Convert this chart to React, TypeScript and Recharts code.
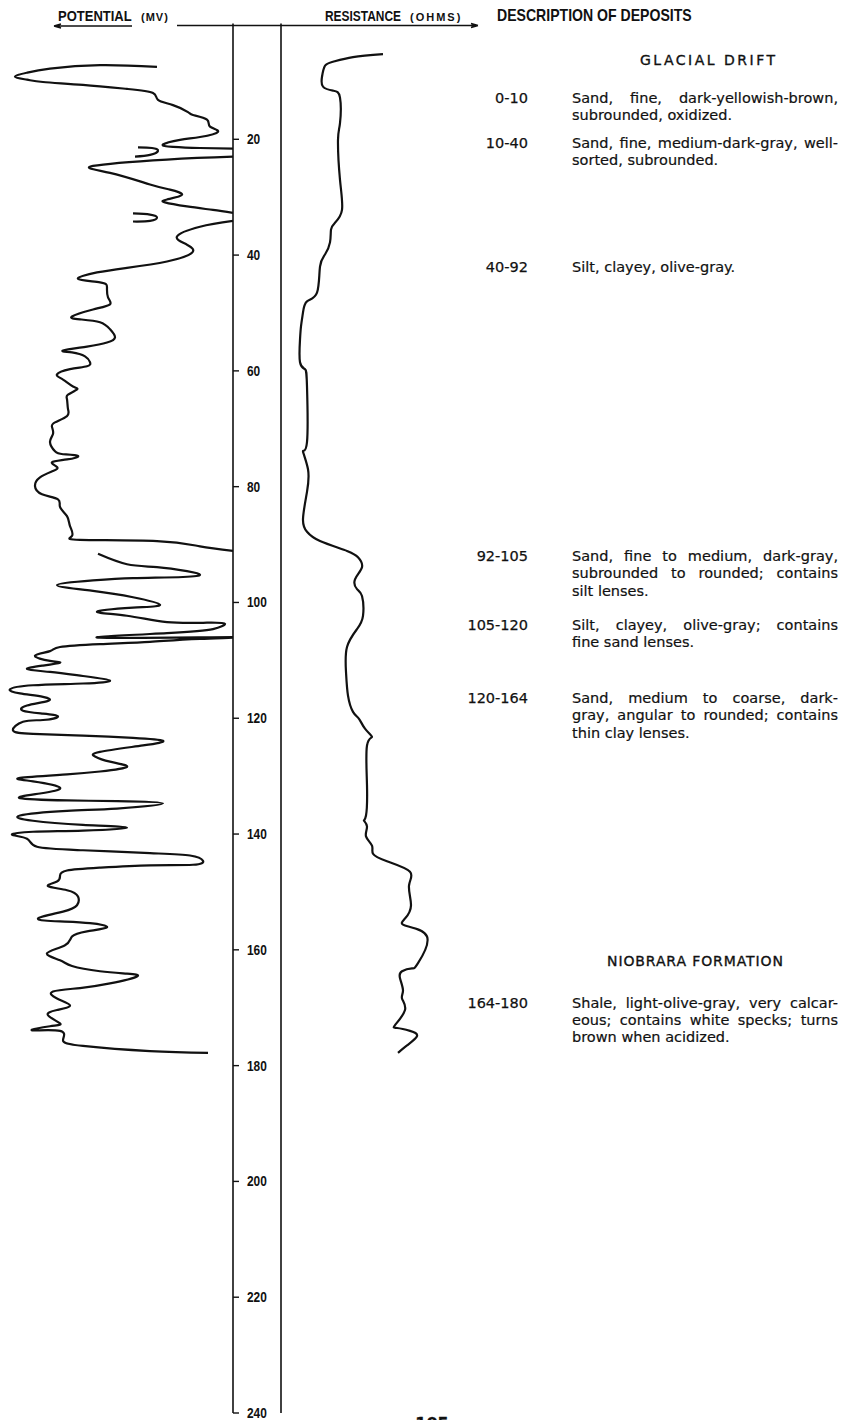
import { Line, LineChart, XAxis, YAxis } from "recharts";

// depth scale (feet) shared by both log tracks
const depthTicks = [20, 40, 60, 80, 100, 120, 140, 160, 180, 200, 220, 240];

// spontaneous potential, [depth ft, deflection mV left of the depth column]
const spSeg1: [number, number][] = [
  [7.5, 76], [7.2, 133], [7.8, 183], [8.5, 206], [9.2, 218], [9.7, 206], [10.1, 190],
  [10.6, 150], [11.3, 106], [12.0, 80], [13.2, 75], [14.1, 60], [15.3, 45], [15.8, 40],
  [16.6, 26], [17.8, 23], [18.7, 15], [19.6, 33], [20.1, 53], [20.9, 70], [21.3, 60],
  [21.5, 33], [21.6, 0],
];
const spHook1: [number, number][] = [[21.4, 95], [21.5, 81], [22.0, 75], [22.7, 83], [23.0, 98]];
const spSeg2: [number, number][] = [
  [23.0, 0], [23.5, 66], [24.6, 140], [25.8, 123], [27.8, 83], [28.7, 63], [29.6, 51],
  [30.4, 66], [30.9, 68], [31.6, 46], [32.2, 20], [32.7, 0],
];
const spHook2: [number, number][] = [[32.8, 100], [33.0, 83], [33.5, 76], [34.1, 83], [34.2, 100]];
const spSeg3: [number, number][] = [
  [34.1, 0], [35.1, 33], [36.8, 56], [38.2, 46], [39.6, 41], [41.1, 66], [42.2, 106],
  [43.0, 136], [44.1, 155], [44.7, 133], [45.6, 126], [47.3, 125], [48.5, 123], [49.4, 140],
  [50.6, 161], [51.1, 153], [51.6, 133], [52.8, 123], [54.2, 118], [55.1, 126], [55.8, 146],
  [56.5, 170], [56.8, 161], [57.5, 148], [58.5, 143], [59.2, 146], [59.7, 163], [60.6, 176],
  [61.5, 170], [62.7, 160], [63.2, 156], [64.1, 165], [64.9, 166], [66.6, 165], [67.8, 166],
  [68.9, 178], [69.7, 181], [70.9, 180], [72.3, 183], [73.9, 178], [74.4, 170], [74.7, 155],
  [75.3, 166], [75.8, 181], [76.6, 176], [77.3, 180], [78.4, 193], [79.9, 198], [81.3, 191],
  [82.2, 175], [83.5, 173], [85.1, 166], [86.8, 163], [88.5, 161], [89.2, 153], [89.4, 76],
  [90.3, 33], [91.1, 0],
];
const spSeg4: [number, number][] = [
  [91.6, 135], [93.4, 106], [93.9, 76], [94.6, 46], [95.2, 33], [95.6, 50], [95.8, 100],
  [96.2, 140], [97.0, 176], [98.0, 140], [99.1, 100], [100.4, 73], [100.9, 100], [101.6, 136],
  [102.3, 106], [103.4, 66], [103.5, 26], [103.7, 8], [104.6, 20], [105.3, 66], [106.1, 133],
  [106.0, 0], [106.3, 33], [106.8, 83], [107.2, 133], [107.7, 173], [108.4, 183], [109.2, 198],
  [110.1, 183], [110.4, 173], [110.9, 190], [111.5, 206], [112.0, 183], [112.7, 150],
  [113.5, 123], [114.0, 150], [114.3, 200], [115.0, 223], [115.7, 213], [116.3, 190],
  [117.0, 185], [117.8, 206], [118.7, 210], [119.2, 190], [119.7, 175], [120.3, 190],
  [120.6, 210], [122.1, 220], [122.7, 200], [123.0, 150], [123.4, 100], [123.9, 70],
  [124.7, 90], [125.8, 133], [126.6, 138], [127.5, 123], [128.4, 106], [129.2, 133],
  [129.7, 166], [130.3, 213], [130.9, 200], [132.0, 173], [133.0, 193], [133.8, 213],
  [134.2, 166], [134.3, 116], [134.7, 70], [135.6, 116], [136.0, 166], [136.8, 213],
  [137.7, 200], [138.4, 150], [138.9, 106], [139.4, 150], [139.6, 200], [140.1, 221],
  [140.8, 206], [142.2, 196], [142.8, 150], [143.3, 83], [143.7, 43], [144.6, 30], [145.3, 40],
  [145.4, 83], [145.8, 133], [146.3, 166], [147.2, 173], [148.2, 176], [149.0, 185],
  [149.7, 166], [150.8, 155], [152.3, 156], [153.4, 170], [154.6, 195], [155.1, 173],
  [155.4, 143], [156.1, 126], [156.8, 146], [157.7, 161], [159.2, 168], [160.6, 186],
  [161.8, 173], [162.8, 161], [163.7, 133], [164.1, 106], [164.6, 96], [165.8, 123],
  [166.6, 153], [167.2, 180], [168.4, 176], [169.6, 163], [170.4, 176], [171.3, 185],
  [172.7, 173], [173.2, 183], [173.9, 201], [174.0, 173], [175.6, 170], [176.6, 150],
  [177.5, 83], [177.8, 25],
];

// resistance, [depth ft, ohms right of the depth column]
const resistance: [number, number][] = [
  [5.3, 102], [5.8, 72], [6.6, 52], [7.3, 44], [9.2, 41], [10.9, 42], [11.6, 52], [12.8, 59],
  [17.2, 59], [20.1, 57], [27.0, 59], [32.2, 61], [34.4, 54], [35.6, 50], [37.8, 49],
  [39.9, 44], [42.0, 39], [46.5, 36], [48.0, 26], [49.9, 22], [52.3, 20], [54.6, 19],
  [58.5, 19], [59.7, 24], [62.7, 26], [72.3, 26], [73.9, 22], [77.0, 27], [80.9, 26],
  [85.6, 22], [87.8, 26], [89.4, 39], [91.1, 66], [92.2, 77], [93.9, 81], [96.0, 74],
  [97.7, 76], [98.9, 81], [102.3, 82], [104.6, 76], [107.7, 66], [112.0, 65], [116.1, 67],
  [118.9, 72], [120.1, 78], [121.8, 84], [123.2, 91], [124.7, 86], [131.6, 86], [136.8, 85],
  [137.7, 83], [138.7, 86], [140.4, 85], [142.0, 91], [143.4, 92], [144.7, 106], [146.5, 129],
  [148.9, 128], [152.3, 130], [154.6, 124], [155.8, 124], [157.7, 146], [162.3, 137],
  [163.2, 131], [163.7, 121], [164.9, 119], [167.0, 122], [168.4, 121], [170.4, 124],
  [173.0, 114], [173.5, 116], [174.0, 129], [174.9, 136], [176.5, 126], [177.8, 117],
];

const rangeLabels = ["0-10", "10-40", "40-92", "92-105", "105-120", "120-164", "164-180"];
const descLines = [
  ["Sand, fine, dark-yellowish-brown,", "subrounded, oxidized."],
  ["Sand, fine, medium-dark-gray, well-", "sorted, subrounded."],
  ["Silt, clayey, olive-gray."],
  ["Sand, fine to medium, dark-gray,", "subrounded to rounded; contains", "silt lenses."],
  ["Silt, clayey, olive-gray; contains", "fine sand lenses."],
  ["Sand, medium to coarse, dark-", "gray, angular to rounded; contains", "thin clay lenses."],
  ["Shale, light-olive-gray, very calcar-", "eous; contains white specks; turns", "brown when acidized."],
];
const unitNames = ["GLACIAL DRIFT", "NIOBRARA FORMATION"];

// layout
const blockY = [99.3, 144, 268.3, 557.3, 626, 699.3, 1004];
const LINE_H = 17.3;
const INK = "#111";
const TEXT = "'DejaVu Sans', Verdana, sans-serif";
const HEAD = "'Liberation Sans', Arial, sans-serif";
const MARGIN = { top: 23.5, right: 0, bottom: 7, left: 0 };

const toRows = (pts: [number, number][], key: string) =>
  pts.map(([depth, v]) => ({ depth, [key]: v }));

const spSegments = [spSeg1, spHook1, spSeg2, spHook2, spSeg3, spSeg4].map((s) => toRows(s, "mv"));
const resRows = toRows(resistance, "ohms");

function DepthLabel(props: any) {
  const { x, y, payload } = props;
  return (
    <text
      transform={`translate(${x},${y + 5}) scale(0.85,1)`}
      textAnchor="start"
      fontSize={14}
      fontWeight="bold"
      fontFamily={HEAD}
      fill={INK}
    >
      {payload.value}
    </text>
  );
}

// condensed heading text (the original uses a narrow type face)
function Narrow({ x, y, sx, size, children, spacing = 0 }: any) {
  return (
    <text
      transform={`translate(${x},${y}) scale(${sx},1)`}
      fontSize={size}
      letterSpacing={spacing}
    >
      {children}
    </text>
  );
}

export default function App() {
  return (
    <div
      style={{
        position: "absolute",
        left: 0,
        top: 0,
        width: 847,
        height: 1420,
        overflow: "hidden",
        background: "#fff",
        color: INK,
      }}
    >
      {/* potential track + depth labels */}
      <div style={{ position: "absolute", left: 0, top: 0 }}>
        <LineChart layout="vertical" width={281} height={1420} margin={MARGIN}>
          <XAxis type="number" domain={[0, 233]} reversed hide allowDataOverflow />
          <YAxis
            type="number"
            dataKey="depth"
            domain={[0, 240]}
            ticks={depthTicks}
            interval={0}
            orientation="right"
            width={48}
            tickSize={6}
            tickMargin={8}
            tick={<DepthLabel />}
            stroke={INK}
            axisLine={{ stroke: INK, strokeWidth: 1.6 }}
            tickLine={{ stroke: INK, strokeWidth: 1.4 }}
            allowDataOverflow
          />
          {spSegments.map((seg, i) => (
            <Line
              key={i}
              data={seg}
              dataKey="mv"
              type="natural"
              stroke={INK}
              strokeWidth={2.2}
              strokeLinejoin="round"
              dot={false}
              activeDot={false}
              isAnimationActive={false}
            />
          ))}
        </LineChart>
      </div>

      {/* resistance track */}
      <div style={{ position: "absolute", left: 233, top: 0 }}>
        <LineChart layout="vertical" width={214} height={1420} margin={MARGIN}>
          <XAxis type="number" domain={[0, 166]} hide allowDataOverflow />
          <YAxis
            type="number"
            dataKey="depth"
            domain={[0, 240]}
            ticks={depthTicks}
            interval={0}
            orientation="left"
            width={48}
            tickSize={6}
            tick={false}
            stroke={INK}
            axisLine={{ stroke: INK, strokeWidth: 1.6 }}
            tickLine={{ stroke: INK, strokeWidth: 1.4 }}
            allowDataOverflow
          />
          <Line
            data={resRows}
            dataKey="ohms"
            type="natural"
            stroke={INK}
            strokeWidth={2.2}
            strokeLinejoin="round"
            dot={false}
            activeDot={false}
            isAnimationActive={false}
          />
        </LineChart>
      </div>

      {/* headings */}
      <svg
        width={847}
        height={1420}
        style={{ position: "absolute", left: 0, top: 0, pointerEvents: "none" }}
      >
        <g fill={INK} fontFamily={HEAD} fontWeight="bold">
          <Narrow x={58} y={20.5} sx={0.84} size={15.5}>POTENTIAL</Narrow>
          <Narrow x={141} y={20.5} sx={1} size={11} spacing={1}>(MV)</Narrow>
          <Narrow x={325} y={20.5} sx={0.77} size={15.5}>RESISTANCE</Narrow>
          <Narrow x={410} y={20.5} sx={1} size={11} spacing={2}>(OHMS)</Narrow>
          <Narrow x={497} y={20.5} sx={0.88} size={16}>DESCRIPTION OF DEPOSITS</Narrow>
        </g>
        <g stroke={INK} strokeWidth={1.4} fill="none">
          <path d="M54 26 H132 M54 26 l7 -2 M54 26 l7 2" />
          <path d="M177 25.5 H478 M478 25.5 l-7 -2 M478 25.5 l-7 2" />
        </g>
        <g fill={INK} stroke={INK} strokeWidth={0.35} fontFamily={TEXT}>
          <text x={640} y={64.5} fontSize={14} textLength={135} lengthAdjust="spacing">
            {unitNames[0]}
          </text>
          <text x={607} y={966} fontSize={14} textLength={176} lengthAdjust="spacing">
            {unitNames[1]}
          </text>
          <text x={432} y={1429} fontSize={16} fontWeight="bold" textAnchor="middle">
            105
          </text>
        </g>
      </svg>

      {/* description of deposits */}
      {rangeLabels.map((label, b) => (
        <div key={label}>
          <div
            style={{
              position: "absolute",
              left: 458,
              top: blockY[b] - 9.3,
              width: 70,
              textAlign: "right",
              fontFamily: TEXT,
              fontSize: 14.5,
              lineHeight: `${LINE_H}px`,
              WebkitTextStroke: "0.25px #111",
            }}
          >
            {label}
          </div>
          {descLines[b].map((line, i) => (
            <div
              key={i}
              style={{
                position: "absolute",
                left: 572,
                top: blockY[b] + i * LINE_H - 9.3,
                width: 266,
                fontFamily: TEXT,
                fontSize: 14.5,
                lineHeight: `${LINE_H}px`,
                textAlign: "justify",
                textAlignLast: i < descLines[b].length - 1 ? "justify" : "left",
                WebkitTextStroke: "0.2px #111",
              }}
            >
              {line}
            </div>
          ))}
        </div>
      ))}
    </div>
  );
}
